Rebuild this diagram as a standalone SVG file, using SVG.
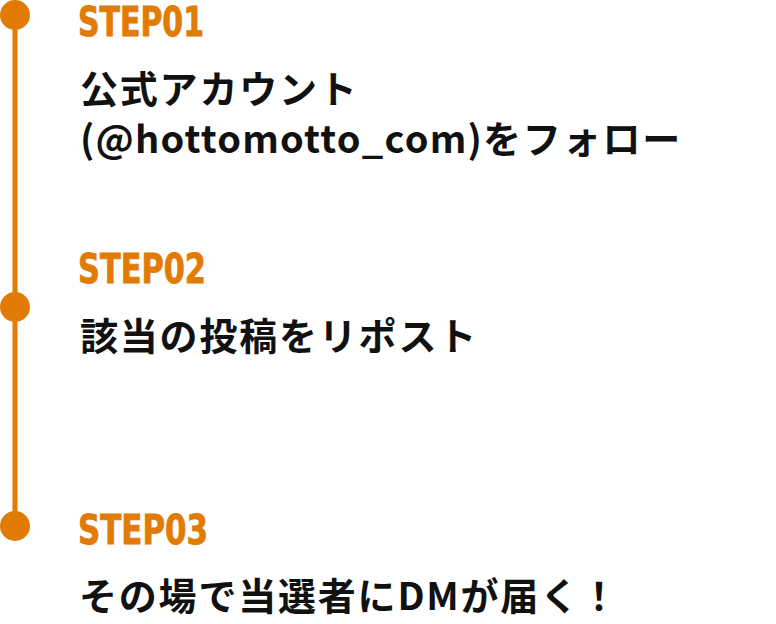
<svg xmlns="http://www.w3.org/2000/svg" width="776" height="624" viewBox="0 0 776 624">
<style>
.step{font-family:"Liberation Sans Narrow","DejaVu Sans Condensed","Liberation Sans",sans-serif;font-weight:bold;font-size:40px;fill:#E27B03;stroke:#E27B03;stroke-width:0.8px;font-stretch:condensed}
.txt{font-family:"Noto Sans CJK JP","Noto Sans",sans-serif;font-weight:bold;font-size:38px;fill:#111;letter-spacing:1.8px}
.lat{letter-spacing:1.2px}
.dot{fill:#E27B03}
</style>
<rect width="776" height="624" fill="#fff"/>
<g id="connectors">
<line x1="15" y1="14" x2="15" y2="526" stroke="#E27B03" stroke-width="5"/>
</g>
<g id="step1">
<circle class="dot" cx="15" cy="15" r="15"/>
<text class="step" x="78" y="36" textLength="126" lengthAdjust="spacingAndGlyphs">STEP01</text>
<text class="txt" x="80" y="103">公式アカウント</text>
<text class="txt" x="80" y="153"><tspan class="lat">(@hottomotto_com)</tspan>をフォロー</text>
</g>
<g id="step2">
<circle class="dot" cx="15" cy="307" r="15"/>
<text class="step" x="78" y="283" textLength="128" lengthAdjust="spacingAndGlyphs">STEP02</text>
<text class="txt" x="80" y="350">該当の投稿をリポスト</text>
</g>
<g id="step3">
<circle class="dot" cx="15" cy="526" r="15"/>
<text class="step" x="78" y="544" textLength="130" lengthAdjust="spacingAndGlyphs">STEP03</text>
<text class="txt" x="79" y="610">その場で当選者にDMが届く！</text>
</g>
</svg>
